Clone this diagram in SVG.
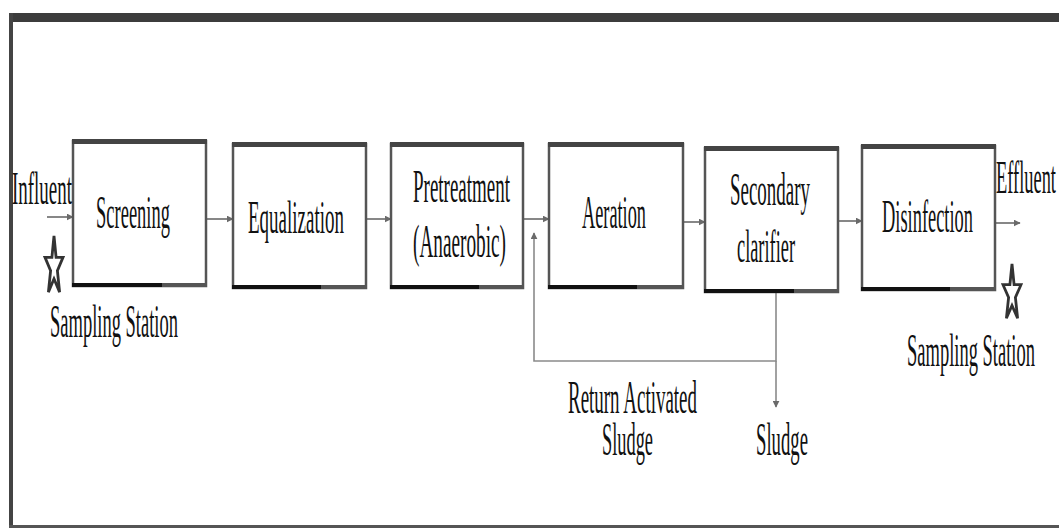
<svg xmlns="http://www.w3.org/2000/svg" width="1059" height="529" viewBox="0 0 1059 529">
<defs>
<style>
.box{fill:#fff;stroke:#555;stroke-width:2.5}
.top{fill:#444}
.botk{fill:#111}
.botg{fill:#555}
.lbl{font-family:"Liberation Serif","Times New Roman",serif;font-size:46px;fill:#111}
.con{fill:none;stroke:#6a6a6a;stroke-width:1.6}
.ret{fill:none;stroke:#8a8a8a;stroke-width:1.6}
.star{fill:#fff;stroke:#333;stroke-width:2.8;stroke-linejoin:miter}
</style>
<marker id="ah" viewBox="0 0 10 10" refX="9" refY="5" markerWidth="7" markerHeight="7" orient="auto" markerUnits="userSpaceOnUse">
<path d="M0,0 L10,5 L0,10 z" fill="#6a6a6a"/>
</marker>
</defs>
<rect width="1059" height="529" fill="#fff"/>
<g id="frame">
<rect x="9" y="13" width="1050" height="9" fill="#3c3c3c"/>
<rect x="9" y="13" width="4" height="515" fill="#444"/>
<rect x="9" y="525" width="1050" height="3" fill="#555"/>
</g>
<g id="connectors">
<line class="con" x1="47" y1="217" x2="73" y2="217" marker-end="url(#ah)"/>
<line class="con" x1="206" y1="219" x2="233" y2="219" marker-end="url(#ah)"/>
<line class="con" x1="366" y1="219" x2="391" y2="219" marker-end="url(#ah)"/>
<line class="con" x1="523" y1="219" x2="549" y2="219" marker-end="url(#ah)"/>
<line class="con" x1="683" y1="222" x2="705" y2="222" marker-end="url(#ah)"/>
<line class="con" x1="838" y1="221" x2="862" y2="221" marker-end="url(#ah)"/>
<line class="con" x1="995" y1="223" x2="1020" y2="223" marker-end="url(#ah)"/>
<path class="ret" d="M776 293 V361 H534 V233" marker-end="url(#ah)"/>
<line class="ret" x1="776" y1="361" x2="776" y2="407" marker-end="url(#ah)"/>
</g>
<g id="screening">
<rect class="box" x="73" y="141" width="133" height="145"/>
<rect class="top" x="72" y="139" width="135" height="5"/>
<rect class="botk" x="72" y="283" width="90" height="4"/>
<rect class="botg" x="162" y="283" width="45" height="4"/>
<text class="lbl" transform="translate(96,228) scale(0.405,1)" textLength="182.7" lengthAdjust="spacingAndGlyphs">Screening</text>
</g>
<g id="equalization">
<rect class="box" x="233" y="144" width="133" height="144"/>
<rect class="top" x="232" y="142" width="135" height="5"/>
<rect class="botk" x="232" y="285" width="89" height="4"/>
<rect class="botg" x="321" y="285" width="46" height="4"/>
<text class="lbl" transform="translate(248,233) scale(0.405,1)" textLength="237" lengthAdjust="spacingAndGlyphs">Equalization</text>
</g>
<g id="pretreatment">
<rect class="box" x="391" y="144" width="132" height="144"/>
<rect class="top" x="390" y="142" width="134" height="5"/>
<rect class="botk" x="390" y="285" width="89" height="4"/>
<rect class="botg" x="479" y="285" width="45" height="4"/>
<text class="lbl" transform="translate(413,202) scale(0.405,1)" textLength="239.5" lengthAdjust="spacingAndGlyphs">Pretreatment</text>
<text class="lbl" transform="translate(413,257) scale(0.405,1)" textLength="229.6" lengthAdjust="spacingAndGlyphs">(Anaerobic)</text>
</g>
<g id="aeration">
<rect class="box" x="549" y="144" width="134" height="144"/>
<rect class="top" x="548" y="142" width="136" height="5"/>
<rect class="botk" x="548" y="285" width="89" height="4"/>
<rect class="botg" x="637" y="285" width="47" height="4"/>
<text class="lbl" transform="translate(582,228) scale(0.405,1)" textLength="158" lengthAdjust="spacingAndGlyphs">Aeration</text>
</g>
<g id="secondary-clarifier">
<rect class="box" x="705" y="148" width="133" height="144"/>
<rect class="top" x="704" y="146" width="135" height="5"/>
<rect class="botk" x="704" y="289" width="90" height="4"/>
<rect class="botg" x="794" y="289" width="45" height="4"/>
<text class="lbl" transform="translate(730,205) scale(0.405,1)" textLength="197.5" lengthAdjust="spacingAndGlyphs">Secondary</text>
<text class="lbl" transform="translate(737,262) scale(0.405,1)" textLength="143.2" lengthAdjust="spacingAndGlyphs">clarifier</text>
</g>
<g id="disinfection">
<rect class="box" x="862" y="146" width="133" height="144"/>
<rect class="top" x="861" y="144" width="135" height="5"/>
<rect class="botk" x="861" y="287" width="89" height="4"/>
<rect class="botg" x="950" y="287" width="46" height="4"/>
<text class="lbl" transform="translate(882,232) scale(0.405,1)" textLength="224.7" lengthAdjust="spacingAndGlyphs">Disinfection</text>
</g>
<g id="influent">
<text class="lbl" transform="translate(12,204) scale(0.405,1)" textLength="148.1" lengthAdjust="spacingAndGlyphs">Influent</text>
</g>
<g id="sampling-station-1">
<polygon class="star" points="54,236 56.1,257.4 63,257.4 57.4,270.7 59.6,292.1 54,278.8 48.4,292.1 50.6,270.7 45,257.4 51.9,257.4"/>
<text class="lbl" transform="translate(50,337) scale(0.405,1)" textLength="316" lengthAdjust="spacingAndGlyphs">Sampling Station</text>
</g>
<g id="effluent">
<text class="lbl" transform="translate(996,193) scale(0.405,1)" textLength="148.1" lengthAdjust="spacingAndGlyphs">Effluent</text>
</g>
<g id="sampling-station-2">
<polygon class="star" points="1012,264 1014.1,284.7 1021,284.7 1015.4,297.5 1017.6,318.3 1012,305.5 1006.4,318.3 1008.6,297.5 1003,284.7 1009.9,284.7"/>
<text class="lbl" transform="translate(907,366) scale(0.405,1)" textLength="316" lengthAdjust="spacingAndGlyphs">Sampling Station</text>
</g>
<g id="return-activated-sludge">
<text class="lbl" transform="translate(568,413) scale(0.405,1)" textLength="318.5" lengthAdjust="spacingAndGlyphs">Return Activated</text>
<text class="lbl" transform="translate(602,455) scale(0.405,1)" textLength="125.9" lengthAdjust="spacingAndGlyphs">Sludge</text>
</g>
<g id="sludge">
<text class="lbl" transform="translate(756,455) scale(0.405,1)" textLength="128.4" lengthAdjust="spacingAndGlyphs">Sludge</text>
</g>
</svg>
